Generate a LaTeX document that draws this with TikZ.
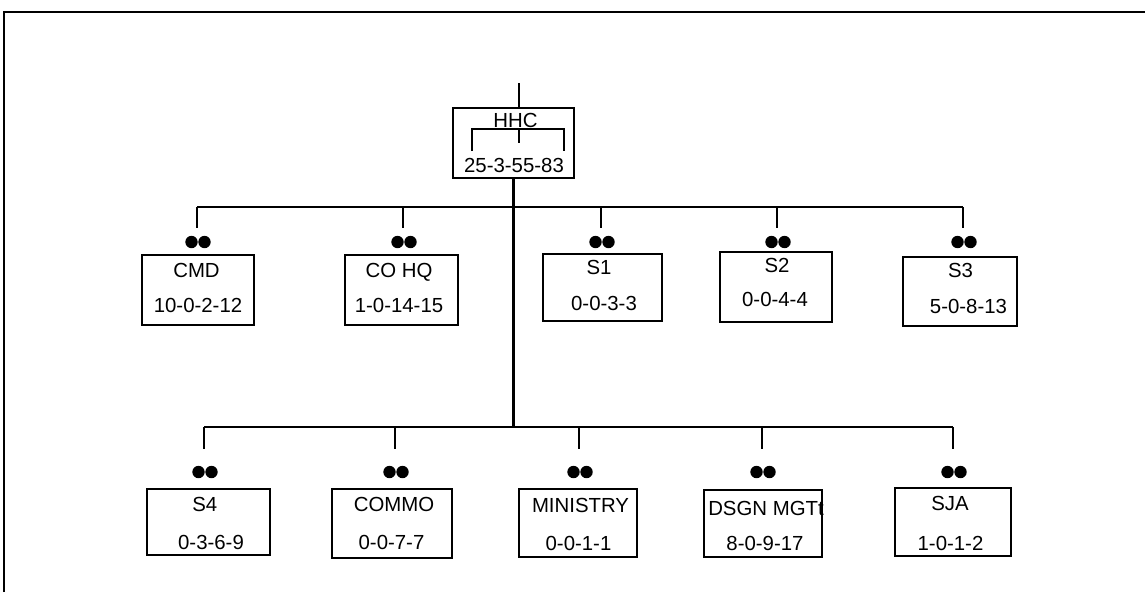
\documentclass[tikz,border=0pt]{standalone}
\usepackage{fontspec}
\setmainfont{Liberation Sans}
\begin{document}
\begin{tikzpicture}[x=0.02cm, y=-0.02cm, line width=1.15pt,
  unitbox/.style={draw, line width=1.3pt, inner sep=0pt},
  lbl/.style={anchor=base, inner sep=0pt, font=\fontsize{11.6}{13}\selectfont}]
  \useasboundingbox (0,0) rectangle (1145,592);

  % Page frame
  \draw (4,592) -- (4,12) -- (1145,12);

  % HHC at the head
  \node[unitbox, minimum width=2.42cm, minimum height=1.40cm] (hhc) at (513.5,143) {};
  \node[lbl] (hhc-t) at (515.5,127) {HHC};
  \node[lbl] (hhc-n) at (514,172) {25-3-55-83};
  \coordinate (hhc-in) at (519,83);
  \draw (hhc-in) -- (hhc-in |- hhc.north);
  \draw[line width=0.9pt] (472,151) -- (472,129) -- (564,129) -- (564,151);
  \draw[line width=0.9pt] (519,129) -- (519,143);

  % First row of sections
  \foreach \nm/\cx/\cy/\w/\h/\ttl/\tx/\ty/\num/\nx/\ny/\dx in {
      cmd/198/290/2.24/1.40/CMD/196.5/277/10-0-2-12/198/312/197,
      cohq/401.5/290/2.26/1.40/{CO HQ}/399/277/1-0-14-15/399/312/403,
      s1/602.5/287.5/2.38/1.34/S1/599/274/0-0-3-3/604/310/601,
      s2/776/287/2.24/1.40/S2/777/272/0-0-4-4/775/306/777,
      s3/960/291.5/2.28/1.38/S3/960.5/277/5-0-8-13/968.5/313/963} {
    \node[unitbox, minimum width=\w cm, minimum height=\h cm] (\nm) at (\cx,\cy) {};
    \node[lbl] (\nm-t) at (\tx,\ty) {\ttl};
    \node[lbl] (\nm-n) at (\nx,\ny) {\num};
    \coordinate (\nm-top) at (\dx,207);
    \coordinate (\nm-end) at (\dx,228);
    \draw (\nm-top) -- (\nm-end);
    \fill ({\dx-5.5},242) circle (0.124cm) ({\dx+7.5},242) circle (0.124cm);
  }
  \draw (cmd-top) -- (s3-top);

  % Second row of sections
  \foreach \nm/\cx/\cy/\w/\h/\ttl/\tx/\ty/\num/\nx/\ny/\dx in {
      s4/208.5/522/2.46/1.32/S4/204.8/511/0-3-6-9/211/549/204,
      commo/392/523.5/2.40/1.38/COMMO/394/511/0-0-7-7/391.5/549/395,
      ministry/578/523/2.36/1.36/MINISTRY/580.5/512/0-0-1-1/578.5/550/579,
      dsgn/763/523.5/2.36/1.34/{DSGN MGTt}/766/515/8-0-9-17/765/550/762,
      sja/953/522/2.32/1.36/SJA/950/510/1-0-1-2/950.5/550/953} {
    \node[unitbox, minimum width=\w cm, minimum height=\h cm] (\nm) at (\cx,\cy) {};
    \begin{scope}
      \clip (\nm.south west) rectangle (\nm.north east);
      \node[lbl] (\nm-t) at (\tx,\ty) {\ttl};
    \end{scope}
    \node[lbl] (\nm-n) at (\nx,\ny) {\num};
    \coordinate (\nm-top) at (\dx,427);
    \coordinate (\nm-end) at (\dx,449);
    \draw (\nm-top) -- (\nm-end);
    \fill ({\dx-5.5},472) circle (0.124cm) ({\dx+7.5},472) circle (0.124cm);
  }
  \draw (s4-top) -- (sja-top);

  % Trunk from HHC down to the second row
  \coordinate (trunk-end) at (hhc.south |- s4-top);
  \draw (hhc.south) -- (trunk-end);
\end{tikzpicture}
\end{document}
